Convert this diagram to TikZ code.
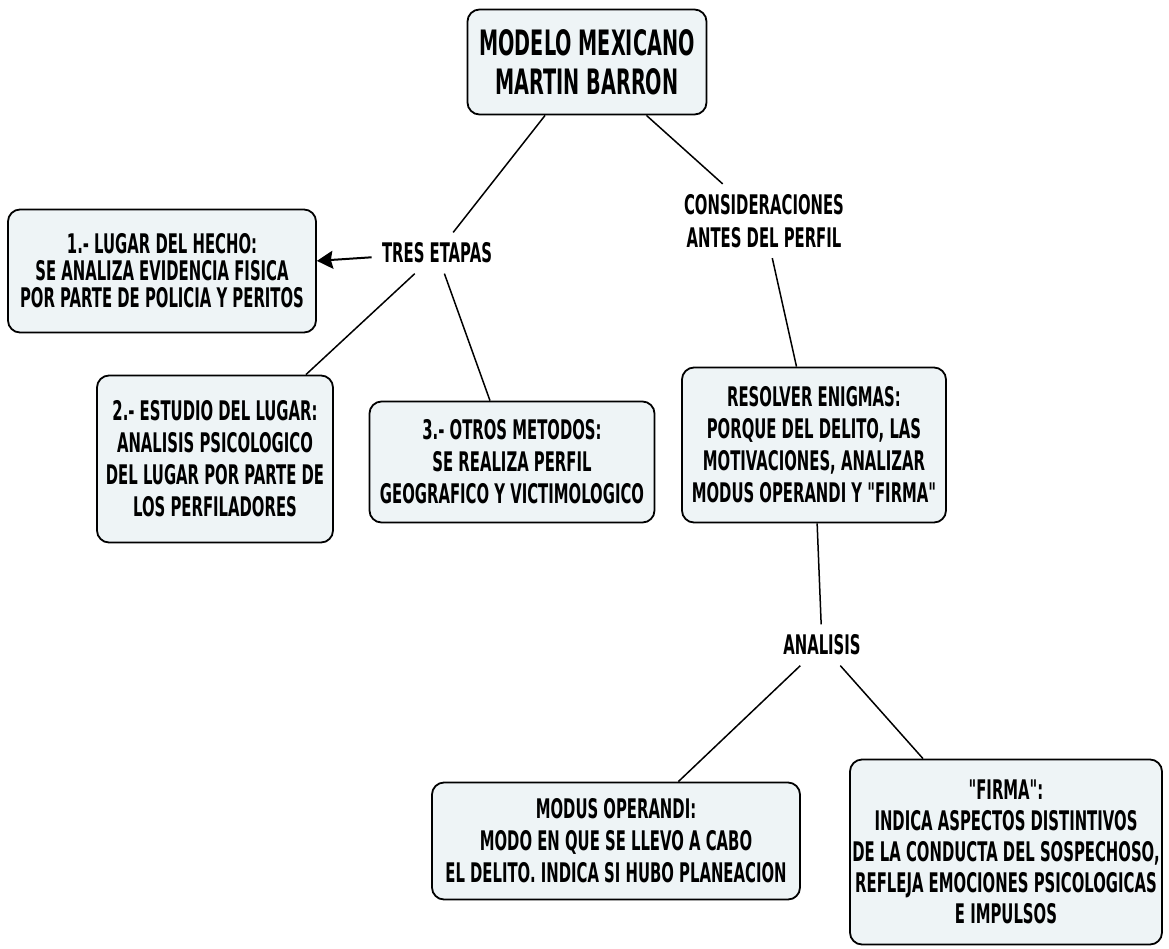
\documentclass[tikz,border=0pt]{standalone}
\usepackage{fontspec}
\setmainfont{DejaVu Sans}[FakeStretch=0.55, Ligatures=TeXOff]
\usetikzlibrary{arrows.meta}
\definecolor{boxfill}{HTML}{EEF4F6}
\tikzset{
  conceptbox/.style={draw=black, line width=0.9pt, fill=boxfill, rounded corners=6pt,
    align=center, inner sep=0pt, font=\bfseries\fontsize{13.5}{16}\selectfont},
  linklabel/.style={align=center, inner sep=5pt, font=\bfseries\fontsize{13.5}{16.5}\selectfont},
  link/.style={line width=0.75pt, black},
}
\begin{document}
\begin{tikzpicture}[x=0.5pt, y=-0.5pt]
\useasboundingbox[fill=white] (0,0) rectangle (1169,949);

\node[conceptbox, minimum width=119.5pt, minimum height=52.5pt,
  font=\bfseries\fontsize{17.5}{19.5}\selectfont] (title) at (587,62)
  {MODELO MEXICANO\\MARTIN BARRON};

\node[linklabel] (tres) at (437,253) {TRES ETAPAS};
\node[linklabel] (cons) at (764,221) {CONSIDERACIONES\\ANTES DEL PERFIL};
\node[linklabel] (anal) at (822,645) {ANALISIS};

\node[conceptbox, minimum width=154pt, minimum height=61.5pt,
  font=\bfseries\fontsize{13.5}{13.5}\selectfont] (b1) at (162,271)
  {1.- LUGAR DEL HECHO:\\SE ANALIZA EVIDENCIA FISICA\\POR PARTE DE POLICIA Y PERITOS};
\node[conceptbox, minimum width=118pt, minimum height=83.5pt] (b2) at (215,459)
  {2.- ESTUDIO DEL LUGAR:\\ANALISIS PSICOLOGICO\\DEL LUGAR POR PARTE DE\\LOS PERFILADORES};
\node[conceptbox, minimum width=142.5pt, minimum height=60.5pt] (b3) at (512,462)
  {3.- OTROS METODOS:\\SE REALIZA PERFIL\\GEOGRAFICO Y VICTIMOLOGICO};
\node[conceptbox, minimum width=132pt, minimum height=77.5pt] (b4) at (814,445)
  {RESOLVER ENIGMAS:\\PORQUE DEL DELITO, LAS\\MOTIVACIONES, ANALIZAR\\MODUS OPERANDI Y "FIRMA"};
\node[conceptbox, minimum width=184pt, minimum height=58.5pt] (modus) at (616,841)
  {MODUS OPERANDI:\\MODO EN QUE SE LLEVO A CABO\\EL DELITO. INDICA SI HUBO PLANEACION};
\node[conceptbox, minimum width=156pt, minimum height=92.5pt,
  font=\bfseries\fontsize{13.5}{15.5}\selectfont] (firma) at (1006,852)
  {"FIRMA":\\INDICA ASPECTOS DISTINTIVOS\\DE LA CONDUCTA DEL SOSPECHOSO,\\REFLEJA EMOCIONES PSICOLOGICAS\\E IMPULSOS};

\draw[link] (title) -- (tres);
\draw[link] (title) -- (cons);
\draw[link, line width=1pt, -{Stealth[length=8pt, width=9pt, inset=1pt]}] (tres) -- (b1);
\draw[link] (tres) -- (b2);
\draw[link] (tres) -- (b3);
\draw[link] (cons) -- (b4);
\draw[link] (b4) -- (anal);
\draw[link] (anal) -- (modus);
\draw[link] (anal) -- (firma);
\end{tikzpicture}
\end{document}
